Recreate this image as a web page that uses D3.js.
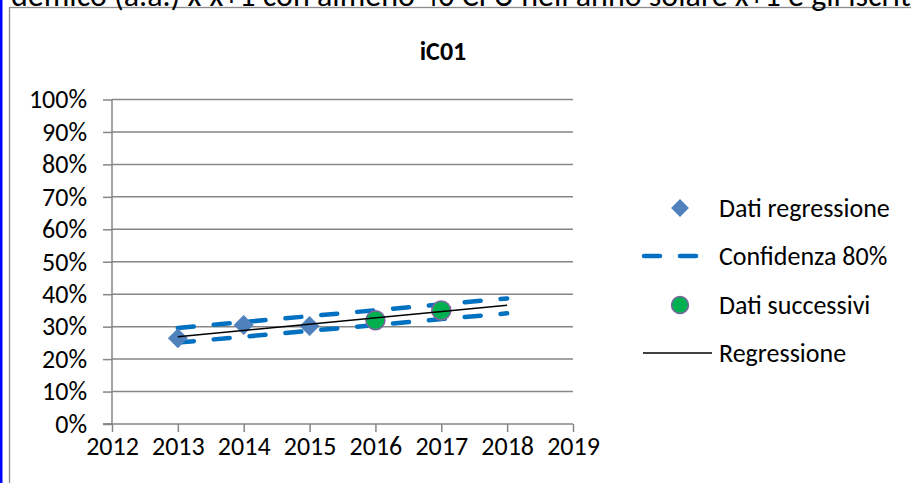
<!DOCTYPE html>
<html>
<head>
<meta charset="utf-8">
<script src="https://cdn.jsdelivr.net/npm/d3@7"></script>
<style>
  html, body { margin: 0; padding: 0; background: #fff; overflow: hidden; }
  svg { display: block; font-family: Carlito, Calibri, "Open Sans", sans-serif; }
</style>
</head>
<body>
<svg id="chart"></svg>
<script>
/* data */
var xTicks = [2012, 2013, 2014, 2015, 2016, 2017, 2018, 2019];
var yTicks = [0, 0.1, 0.2, 0.3, 0.4, 0.5, 0.6, 0.7, 0.8, 0.9, 1];

var regYears = [2013, 2014, 2015];
var regValues = [0.264, 0.305, 0.302];

var nextYears = [2016, 2017];
var nextValues = [0.320, 0.350];

var lineYears = [2013, 2018];
var regLine = [0.269, 0.366];
var confUpper = [0.296, 0.387];
var confLower = [0.251, 0.341];

var legendLabels = ["Dati regressione", "Confidenza 80%", "Dati successivi", "Regressione"];
var headerText = "demico (a.a.) x-x+1 con almeno 40 CFU nell'anno solare x+1 e gli iscritti";
var title = "iC01";

/* layout */
var W = 911, H = 483;
var plot = { left: 112, right: 573, top: 99.5, bottom: 424 };
var grid = "#868686";
var fs = "26px";

var svg = d3.select("#chart").attr("width", W).attr("height", H);

// page bits around the chart
svg.append("rect").attr("x", 0).attr("y", 0).attr("width", 2.5).attr("height", H).attr("fill", "#0000ff");
svg.append("rect")
   .attr("x", 9.5).attr("y", 7.5)
   .attr("width", 1000).attr("height", 1000)
   .attr("fill", "#fff").attr("stroke", "#8c8c8c").attr("stroke-width", 1.3);
svg.append("text")
   .attr("x", 11).attr("y", 6)
   .style("font-size", "32px")
   .text(headerText);

var x = d3.scaleLinear().domain([2012, 2019]).range([plot.left, plot.right]);
var y = d3.scaleLinear().domain([0, 1]).range([plot.bottom, plot.top]);

// title
svg.append("text")
   .attr("x", 443).attr("y", 51).attr("dy", "0.35em")
   .attr("text-anchor", "middle")
   .style("font-size", fs).style("font-weight", "bold")
   .text(title);

// gridlines
svg.append("g").selectAll("line")
   .data(yTicks.filter(d => d > 0))
   .join("line")
   .attr("x1", plot.left).attr("x2", plot.right)
   .attr("y1", d => y(d)).attr("y2", d => y(d))
   .attr("stroke", grid).attr("stroke-width", 1.5);

// axes
var yAxis = svg.append("g")
   .attr("transform", `translate(${plot.left},0)`)
   .call(d3.axisLeft(y).tickValues(yTicks).tickFormat(d3.format(".0%")).tickSize(9).tickPadding(16));

var xAxis = svg.append("g")
   .attr("transform", `translate(0,${plot.bottom})`)
   .call(d3.axisBottom(x).tickValues(xTicks).tickFormat(d3.format("d")).tickSize(8).tickSizeOuter(0));

[yAxis, xAxis].forEach(function(a){
    a.attr("font-family", null).attr("font-size", null);
    a.select(".domain").attr("stroke", grid).attr("stroke-width", 1.5);
    a.selectAll(".tick line").attr("stroke", grid).attr("stroke-width", 1.5);
    a.selectAll("text").style("font-size", fs).attr("fill", "#000");
});
yAxis.select(".domain").attr("d", `M-9,${plot.bottom}H0V${plot.top}`);
xAxis.select(".domain").attr("d", `M${plot.left - 9},0H${plot.right}`);
xAxis.selectAll("text").attr("y", 22).attr("dy", "0.35em");

// series
var lineGen = d3.line().x(d => x(d[0])).y(d => y(d[1]));
var conf = svg.append("g");
[confUpper, confLower].forEach(function(vals){
    conf.append("path")
        .attr("d", lineGen(d3.zip(lineYears, vals)))
        .attr("fill", "none")
        .attr("stroke", "#0070c0")
        .attr("stroke-width", 4.5)
        .attr("stroke-linecap", "round")
        .attr("stroke-dasharray", "16 20");
});

var diamond = d3.symbol().type(d3.symbolSquare).size(200);
svg.append("g").selectAll("path")
   .data(d3.zip(regYears, regValues))
   .join("path")
   .attr("d", diamond)
   .attr("transform", d => `translate(${x(d[0])},${y(d[1])}) rotate(45)`)
   .attr("fill", "#4f81bd");

svg.append("g").selectAll("circle")
   .data(d3.zip(nextYears, nextValues))
   .join("circle")
   .attr("cx", d => x(d[0]))
   .attr("cy", d => y(d[1]))
   .attr("r", 9.5)
   .attr("fill", "#00b050")
   .attr("stroke", "#8064a2")
   .attr("stroke-width", 1.5);

svg.append("path")
   .attr("d", lineGen(d3.zip(lineYears, regLine)))
   .attr("fill", "none")
   .attr("stroke", "#000")
   .attr("stroke-width", 1.5);

// legend
var legY = [208, 256, 305, 353];
var leg = svg.append("g");
leg.selectAll("text")
   .data(legendLabels)
   .join("text")
   .attr("x", 719)
   .attr("y", (d, i) => legY[i])
   .attr("dy", "0.35em")
   .style("font-size", fs)
   .text(d => d);

leg.append("path")
   .attr("d", d3.symbol().type(d3.symbolSquare).size(160))
   .attr("transform", `translate(680,${legY[0]}) rotate(45)`)
   .attr("fill", "#4f81bd");
leg.append("line")
   .attr("x1", 644).attr("x2", 696)
   .attr("y1", legY[1]).attr("y2", legY[1])
   .attr("stroke", "#0070c0").attr("stroke-width", 4.5)
   .attr("stroke-linecap", "round").attr("stroke-dasharray", "16 20");
leg.append("circle")
   .attr("cx", 680).attr("cy", legY[2]).attr("r", 8.5)
   .attr("fill", "#00b050").attr("stroke", "#8064a2").attr("stroke-width", 1.5);
leg.append("line")
   .attr("x1", 643).attr("x2", 712)
   .attr("y1", legY[3]).attr("y2", legY[3])
   .attr("stroke", "#000").attr("stroke-width", 1.5);
</script>
</body>
</html>
